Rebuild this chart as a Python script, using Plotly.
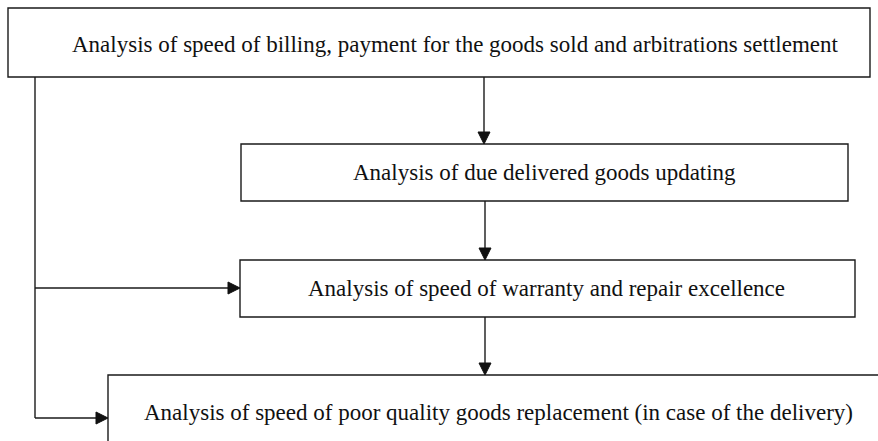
import plotly.graph_objects as go

# Box labels (content)
box_labels = [
    "Analysis of speed of billing, payment for the goods sold and arbitrations settlement",
    "Analysis of due delivered goods updating",
    "Analysis of speed of warranty and repair excellence",
    "Analysis of speed of poor quality goods replacement (in case of the delivery)",
]

W, H = 878, 441
LINE = dict(color="#1a1a1a", width=1.4)
FONT = dict(family="Liberation Serif, Times New Roman, serif", size=23, color="#111")

# geometry (pixel coordinates)
boxes = [
    dict(x0=8, y0=8, x1=870, y1=77, tx=455, ty=44),
    dict(x0=241, y0=144, x1=848, y1=201, tx=544, ty=172),
    dict(x0=240, y0=260, x1=855, y1=317, tx=546, ty=288),
    dict(x0=108, y0=375, x1=900, y1=470, tx=498, ty=412),
]

shapes = []
annotations = []
for i, b in enumerate(boxes):
    if i < 3:
        shapes.append(dict(type="rect", xref="x", yref="y", x0=b["x0"], y0=b["y0"],
                           x1=b["x1"], y1=b["y1"], line=LINE, fillcolor="white", layer="below"))
    else:
        shapes.append(dict(type="path", xref="x", yref="y",
                           path=f"M{b['x0']},{H} L{b['x0']},{b['y0']} L{W},{b['y0']}",
                           line=LINE))
    annotations.append(dict(x=b["tx"], y=b["ty"], xref="x", yref="y", text=box_labels[i],
                            showarrow=False, font=FONT, xanchor="center", yanchor="middle"))


def line(x0, y0, x1, y1):
    shapes.append(dict(type="line", xref="x", yref="y", x0=x0, y0=y0, x1=x1, y1=y1, line=LINE))


def arrow_down(x, y):
    shapes.append(dict(type="path", xref="x", yref="y",
                       path=f"M{x-6},{y-12} L{x+6},{y-12} L{x},{y} Z",
                       fillcolor="#111", line=dict(color="#111", width=1)))


def arrow_right(x, y):
    shapes.append(dict(type="path", xref="x", yref="y",
                       path=f"M{x-12},{y-6} L{x-12},{y+6} L{x},{y} Z",
                       fillcolor="#111", line=dict(color="#111", width=1)))


# vertical chain
line(484, 77, 484, 134); arrow_down(484, 144)
line(485, 201, 485, 250); arrow_down(485, 260)
line(485, 317, 485, 365); arrow_down(485, 375)
# left bus
line(35, 77, 35, 418)
line(35, 288, 230, 288); arrow_right(240, 288)
line(35, 418, 98, 418); arrow_right(108, 418)

fig = go.Figure()
fig.update_layout(
    width=W, height=H, margin=dict(l=0, r=0, t=0, b=0),
    paper_bgcolor="white", plot_bgcolor="white",
    xaxis=dict(range=[0, W], visible=False, fixedrange=True),
    yaxis=dict(range=[H, 0], visible=False, fixedrange=True),
    shapes=shapes, annotations=annotations, showlegend=False,
)
fig.write_html("out.html", config={"displayModeBar": False},
               post_script="document.body.style.margin='0';document.body.style.overflow='hidden';")
